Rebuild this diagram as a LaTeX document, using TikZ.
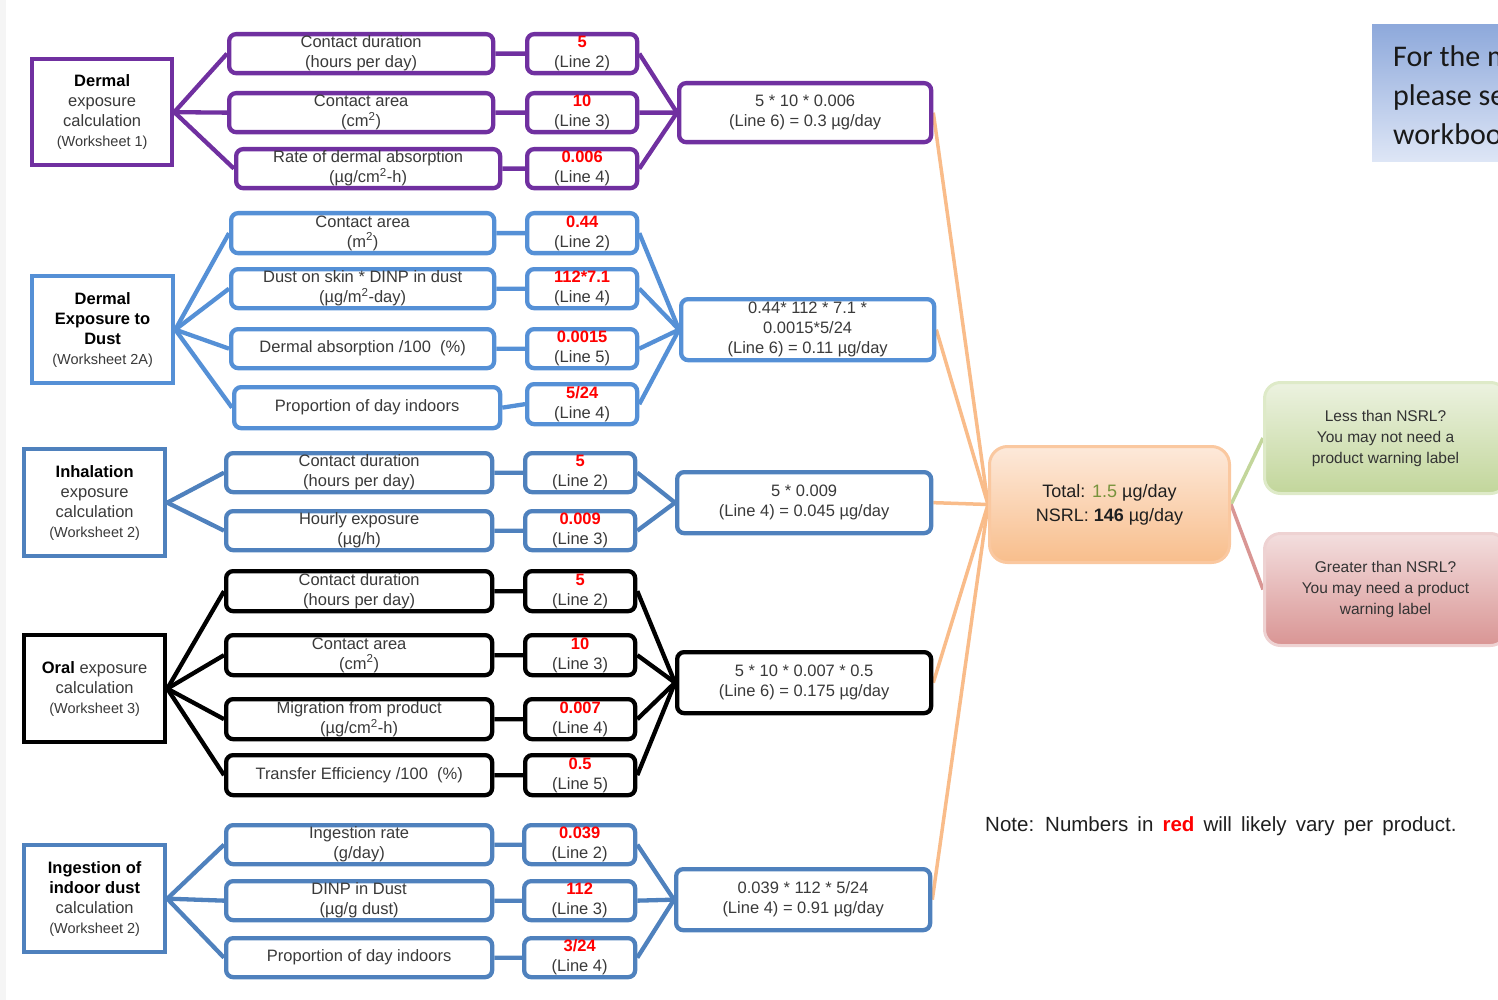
\documentclass[tikz,border=0pt]{standalone}
\usepackage{fontspec}
\setmainfont{Liberation Sans}
\newfontfamily\calibfont{Carlito}
\newfontfamily\notefont[WordSpace=1.6]{Liberation Sans}
\usetikzlibrary{backgrounds}
\definecolor{cpurple}{HTML}{7030A0}
\definecolor{cblueA}{HTML}{5590D6}
\definecolor{cblueB}{HTML}{4F81BD}
\definecolor{ctext}{HTML}{3A3A3A}
\definecolor{corange}{HTML}{F9BC8A}
\definecolor{cred}{HTML}{FF0000}
\definecolor{cgreenN}{HTML}{77933C}
\definecolor{grTop}{RGB}{236,242,224}
\definecolor{grBot}{RGB}{194,214,155}
\definecolor{grLine}{RGB}{195,214,155}
\definecolor{grBorder}{RGB}{222,234,200}
\definecolor{rdTop}{RGB}{243,222,222}
\definecolor{rdBot}{RGB}{217,149,148}
\definecolor{rdLine}{RGB}{217,150,148}
\definecolor{rdBorder}{RGB}{238,210,210}
\definecolor{blTop}{RGB}{142,169,219}
\definecolor{blBot}{RGB}{222,230,246}
\definecolor{orTop}{RGB}{253,233,218}
\definecolor{orBot}{RGB}{248,190,140}
\definecolor{orBorder}{RGB}{250,200,160}
\newcommand\bx[6]{\node[#1, minimum width={#4-#2-4}, minimum height={#5-#3-4}, anchor=north west] (#6) at ({#2+2},{#3+2})}
\newcommand\val[2]{\textcolor{cred}{\textbf{#1}}\\(Line #2)}
\newcommand\wsf[1]{{\fontsize{14.5}{20}\selectfont #1}}
\begin{document}
\begin{tikzpicture}[x=1pt,y=-1pt,
  box/.style={draw, line width=4.3pt, fill=white, inner sep=0pt, align=center, text=ctext,
    font=\fontsize{16.5}{20}\selectfont},
  lbox/.style={box},
  pbox/.style={box, rounded corners=7pt},
  conn/.style={line width=4.3pt},
  oline/.style={line width=3.5pt, corange},
]
\useasboundingbox (0,0) rectangle (1498,1000);
\fill[gray!8] (0,0) rectangle (6,1000);

% ---------- Group 1: dermal (purple)
\begin{scope}[every node/.append style={draw=cpurple}]
\bx{lbox}{28}{55}{172}{165}{L1} {\textcolor{black}{\textbf{Dermal}}\\exposure\\calculation\\\wsf{(Worksheet 1)}};
\bx{pbox}{225}{30}{493}{73}{p11} {Contact duration\\(hours per day)};
\bx{pbox}{225}{89}{493}{132}{p12} {Contact area\\(cm\textsuperscript{2})};
\bx{pbox}{232}{145}{500}{188}{p13} {Rate of dermal absorption\\(µg/cm\textsuperscript{2}-h)};
\bx{pbox}{523}{30}{637}{73}{v11} {\val{5}{2}};
\bx{pbox}{523}{89}{637}{132}{v12} {\val{10}{3}};
\bx{pbox}{523}{145}{637}{188}{v13} {\val{0.006}{4}};
\bx{pbox}{675}{79}{931}{142}{r1} {5 * 10 * 0.006\\(Line 6) = 0.3 µg/day};
\end{scope}

% ---------- Group 2: dermal dust (blue A)
\begin{scope}[every node/.append style={draw=cblueA}]
\bx{lbox}{28}{272}{173}{383}{L2} {\textcolor{black}{\textbf{Dermal}}\\\textcolor{black}{\textbf{Exposure to}}\\\textcolor{black}{\textbf{Dust}}\\\wsf{(Worksheet 2A)}};
\bx{pbox}{227}{209}{494}{253}{p21} {Contact area\\(m\textsuperscript{2})};
\bx{pbox}{227}{265}{494}{308}{p22} {Dust on skin * DINP in dust\\(µg/m\textsuperscript{2}-day)};
\bx{pbox}{227}{325}{494}{368}{p23} {Dermal absorption /100~~(\%)};
\bx{pbox}{230}{383}{500}{428}{p24} {Proportion of day indoors};
\bx{pbox}{523}{209}{637}{253}{v21} {\val{0.44}{2}};
\bx{pbox}{523}{265}{637}{308}{v22} {\val{112*7.1}{4}};
\bx{pbox}{523}{325}{637}{368}{v23} {\val{0.0015}{5}};
\bx{pbox}{523}{380}{637}{424}{v24} {\val{5/24}{4}};
\bx{pbox}{677}{295}{934}{360}{r2} {0.44* 112 * 7.1 *\\0.0015*5/24\\(Line 6) = 0.11 µg/day};
\end{scope}

% ---------- Group 3: inhalation (blue B)
\begin{scope}[every node/.append style={draw=cblueB}]
\bx{lbox}{20}{445}{165}{556}{L3} {\textcolor{black}{\textbf{Inhalation}}\\exposure\\calculation\\\wsf{(Worksheet 2)}};
\bx{pbox}{222}{449}{492}{492}{p31} {Contact duration\\(hours per day)};
\bx{pbox}{222}{507}{492}{550}{p32} {Hourly exposure\\(µg/h)};
\bx{pbox}{521}{449}{635}{492}{v31} {\val{5}{2}};
\bx{pbox}{521}{507}{635}{550}{v32} {\val{0.009}{3}};
\bx{pbox}{673}{468}{931}{533}{r3} {5 * 0.009\\(Line 4) = 0.045 µg/day};
\end{scope}

% ---------- Group 4: oral (black)
\begin{scope}[every node/.append style={draw=black}]
\bx{lbox}{20}{631}{165}{742}{L4} {\textcolor{black}{\textbf{Oral}} exposure\\calculation\\\wsf{(Worksheet 3)}};
\bx{pbox}{222}{567}{492}{611}{p41} {Contact duration\\(hours per day)};
\bx{pbox}{222}{631}{492}{675}{p42} {Contact area\\(cm\textsuperscript{2})};
\bx{pbox}{222}{695}{492}{739}{p43} {Migration from product\\(µg/cm\textsuperscript{2}-h)};
\bx{pbox}{222}{751}{492}{795}{p44} {Transfer Efficiency /100~~(\%)};
\bx{pbox}{521}{567}{635}{611}{v41} {\val{5}{2}};
\bx{pbox}{521}{631}{635}{675}{v42} {\val{10}{3}};
\bx{pbox}{521}{695}{635}{739}{v43} {\val{0.007}{4}};
\bx{pbox}{521}{751}{635}{795}{v44} {\val{0.5}{5}};
\bx{pbox}{673}{648}{931}{713}{r4} {5 * 10 * 0.007 * 0.5\\(Line 6) = 0.175 µg/day};
\end{scope}

% ---------- Group 5: ingestion (blue B)
\begin{scope}[every node/.append style={draw=cblueB}]
\bx{lbox}{20}{841}{165}{952}{L5} {\textcolor{black}{\textbf{Ingestion of}}\\\textcolor{black}{\textbf{indoor dust}}\\calculation\\\wsf{(Worksheet 2)}};
\bx{pbox}{222}{821}{492}{864}{p51} {Ingestion rate\\(g/day)};
\bx{pbox}{222}{877}{492}{920}{p52} {DINP in Dust\\(µg/g dust)};
\bx{pbox}{222}{934}{492}{977}{p53} {Proportion of day indoors};
\bx{pbox}{520}{821}{635}{864}{v51} {\val{0.039}{2}};
\bx{pbox}{520}{877}{635}{920}{v52} {\val{112}{3}};
\bx{pbox}{520}{934}{635}{977}{v53} {\val{3/24}{4}};
\bx{pbox}{672}{865}{930}{930}{r5} {0.039 * 112 * 5/24\\(Line 4) = 0.91 µg/day};
\end{scope}

% ---------- Total and outcomes
\node[draw=orBorder, line width=3pt, rounded corners=18pt, top color=orTop, bottom color=orBot,
  minimum width=240, minimum height=116, anchor=north west, align=center, text=black!88,
  font=\fontsize{18}{24}\selectfont] (total) at (988,445)
  {Total: \textcolor{cgreenN}{1.5} µg/day\\NSRL: \textbf{146} µg/day};

\begin{scope}
\clip (0,0) rectangle (1498,1000);
\node[draw=grBorder, line width=3pt, rounded corners=16pt, top color=grTop,
  bottom color=grBot, minimum width=242, minimum height=111, anchor=north west,
  align=center, text=black!80, font=\fontsize{15.5}{21}\selectfont] (green) at (1263,381)
  {Less than NSRL?\\You may not need a\\product warning label};
\node[draw=rdBorder, line width=3pt, rounded corners=16pt, top color=rdTop,
  bottom color=rdBot, minimum width=242, minimum height=112, anchor=north west,
  align=center, text=black!80, font=\fontsize{15.5}{21}\selectfont] (red) at (1263,532)
  {Greater than NSRL?\\You may need a product\\warning label};
\shade[top color=blTop, bottom color=blBot] (1372,25) rectangle (1510,162);
\node[anchor=north west, align=left, inner sep=0pt, text=black!90, font=\calibfont\fontsize{30}{39}\selectfont] (note2) at (1393,45)
  {For the more\\please see\\workbook};
\end{scope}

\node[anchor=west, inner sep=0pt, text=black!88, font=\notefont\fontsize{20.5}{24}\selectfont] (note) at (985,826)
  {Note: Numbers in \textcolor{cred}{\textbf{red}} will likely vary per product.};

% ---------- connectors
\begin{scope}[on background layer]
\foreach \i in {1,2,3}{\draw[conn, cpurple] (L1.east) -- (p1\i.west) (p1\i.east) -- (v1\i.west) (v1\i.east) -- (r1.west);}
\foreach \i in {1,2,3,4}{\draw[conn, cblueA] (L2.east) -- (p2\i.west) (p2\i.east) -- (v2\i.west) (v2\i.east) -- (r2.west);}
\foreach \i in {1,2}{\draw[conn, cblueB] (L3.east) -- (p3\i.west) (p3\i.east) -- (v3\i.west) (v3\i.east) -- (r3.west);}
\foreach \i in {1,2,3,4}{\draw[conn, black] (L4.east) -- (p4\i.west) (p4\i.east) -- (v4\i.west) (v4\i.east) -- (r4.west);}
\foreach \i in {1,2,3}{\draw[conn, cblueB] (L5.east) -- (p5\i.west) (p5\i.east) -- (v5\i.west) (v5\i.east) -- (r5.west);}
\foreach \r in {r1,r2,r3,r4,r5}{\draw[oline] (\r.east) -- (total.west);}
\draw[line width=3.5pt, grLine] (total.east) -- (green.west);
\draw[line width=3.5pt, rdLine] (total.east) -- (red.west);
\end{scope}
\end{tikzpicture}
\end{document}
